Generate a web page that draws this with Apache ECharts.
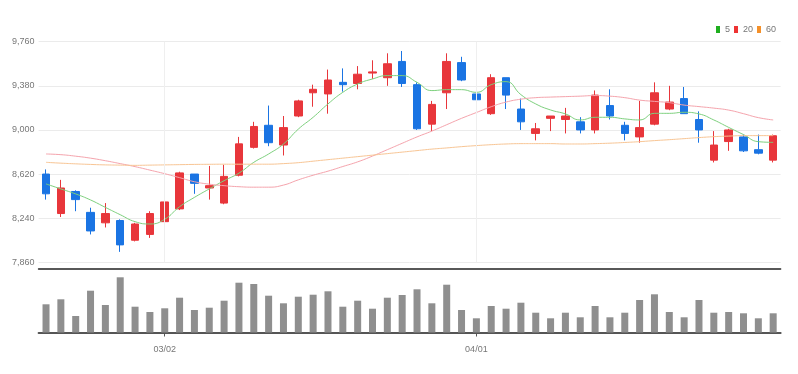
<!DOCTYPE html>
<html><head><meta charset="utf-8">
<script src="https://cdn.jsdelivr.net/npm/echarts@6/dist/echarts.min.js"></script>
<style>html,body{margin:0;padding:0;background:#fff}#c{width:798px;height:374px}</style>
</head><body><div id="c"></div>
<script>
const dates = ['2022-02-17','2022-02-18','2022-02-21','2022-02-22','2022-02-23','2022-02-24','2022-02-25','2022-02-28',
'2022-03-02','2022-03-03','2022-03-04','2022-03-07','2022-03-08','2022-03-10','2022-03-11','2022-03-14','2022-03-15','2022-03-16','2022-03-17','2022-03-18','2022-03-21','2022-03-22','2022-03-23','2022-03-24','2022-03-25','2022-03-28','2022-03-29','2022-03-30','2022-03-31',
'2022-04-01','2022-04-04','2022-04-05','2022-04-06','2022-04-07','2022-04-08','2022-04-11','2022-04-12','2022-04-13','2022-04-14','2022-04-15','2022-04-18','2022-04-19','2022-04-20','2022-04-21','2022-04-22','2022-04-25','2022-04-26','2022-04-27','2022-04-28','2022-04-29'];
const monthTicks = ['2022-03-02','2022-04-01'];
const openP  = [8620,8280,8470,8290,8200,8220,8050,8100,8210,8320,8620,8500,8370,8610,8850,9040,8870,9120,9320,9310,9410,9400,9490,9450,9590,9390,9050,9320,9580,9310,9140,9450,9180,8970,9100,9090,9070,9000,9210,9040,8940,9050,9180,9270,9090,8740,8900,8940,8830,8740];
const closeP = [8450,8500,8400,8130,8280,8010,8190,8280,8380,8630,8540,8520,8600,8880,9030,8890,9020,9250,9350,9430,9390,9480,9500,9570,9400,9010,9220,9590,9430,9260,9450,9300,9070,9010,9120,9120,9000,9300,9120,8970,9020,9320,9240,9140,9000,8870,9000,8820,8800,8950];
const lowP   = [8400,8250,8300,8100,8160,7950,8040,8070,8200,8310,8450,8400,8360,8600,8840,8860,8780,9110,9200,9140,9330,9350,9440,9380,9370,9000,8990,9180,9420,9250,9130,9180,9000,8910,8990,8970,8970,8970,9090,8910,8890,9040,9170,9140,8890,8720,8820,8810,8790,8720];
const highP  = [8660,8570,8480,8330,8370,8230,8200,8300,8420,8640,8620,8690,8700,8940,9070,9210,9120,9260,9390,9520,9530,9550,9600,9660,9680,9410,9250,9660,9630,9410,9480,9450,9270,9060,9120,9190,9110,9340,9350,9070,9250,9410,9380,9370,9160,8990,9010,8960,8960,8960];
const volume = [564,664,330,836,550,1104,516,410,484,696,450,496,636,996,970,736,584,716,756,824,516,636,476,696,750,864,584,956,450,284,530,476,596,396,284,396,304,530,304,396,650,764,410,304,650,396,410,384,284,384];
const ma5  = [8535,8492,8449,8397,8333,8270,8210,8190,8231,8339,8419,8492,8563,8628,8721,8793,8879,9007,9109,9224,9324,9396,9439,9468,9468,9410,9339,9347,9347,9324,9390,9416,9304,9224,9172,9138,9086,9109,9109,9095,9086,9143,9143,9152,9138,9086,9022,8960,8899,8893];
const ma20 = [8793,8787,8774,8757,8735,8710,8684,8654,8623,8589,8554,8533,8520,8511,8507,8507,8525,8570,8610,8645,8685,8725,8775,8830,8885,8940,8990,9045,9100,9150,9200,9240,9265,9278,9283,9287,9291,9296,9291,9278,9257,9246,9235,9214,9201,9188,9171,9140,9106,9086];
const ma60 = [8721,8714,8708,8703,8699,8697,8695,8697,8699,8701,8703,8704,8705,8705,8705,8705,8710,8718,8731,8744,8757,8770,8783,8796,8809,8822,8835,8845,8856,8865,8873,8879,8882,8882,8882,8879,8879,8882,8886,8892,8899,8908,8916,8925,8934,8942,8947,8951,8951,8951];
const yTicks = {min: 7860, max: 9760, step: 380};

const FONT = "'Liberation Sans','Arial',sans-serif";
const UP = '#e8363b', DOWN = '#1a74e3';
const isTick = (i, v) => monthTicks.indexOf(v) >= 0;
const candles = dates.map((d, i) => [openP[i], closeP[i], lowP[i], highP[i]]);

const chart = echarts.init(document.getElementById('c'));
chart.setOption({
  animation: false,
  backgroundColor: '#fff',
  legend: {
    data: ['5', '20', '60'], right: 17, top: 20, icon: 'rect',
    itemWidth: 4, itemHeight: 7, itemGap: 4,
    textStyle: {fontSize: 9, color: '#777', fontFamily: FONT}
  },
  grid: [
    {left: 38.6, right: 17.4, top: 41.7, bottom: 111.7},
    {left: 38.6, right: 17.4, top: 269, bottom: 41.5}
  ],
  xAxis: [
    {type: 'category', data: dates, gridIndex: 0, boundaryGap: true, offset: 6.2,
     axisLine: {show: true, lineStyle: {color: '#222', width: 1.6}},
     axisTick: {show: false}, axisLabel: {show: false}, splitLine: {show: false}},
    {type: 'category', data: dates, gridIndex: 1, boundaryGap: true,
     axisLine: {show: true, lineStyle: {color: '#555', width: 2}},
     axisTick: {show: true, alignWithLabel: true, interval: isTick, length: 4, lineStyle: {color: '#555'}},
     axisLabel: {interval: isTick, fontSize: 9, color: '#777', fontFamily: FONT, margin: 13,
                 formatter: v => v.slice(5, 7) + '/' + v.slice(8, 10)},
     splitLine: {show: false}}
  ],
  yAxis: [
    {type: 'value', gridIndex: 0, min: yTicks.min, max: yTicks.max, interval: yTicks.step,
     axisLine: {show: false}, axisTick: {show: false},
     axisLabel: {fontSize: 9, color: '#777', fontFamily: FONT, margin: 4,
                 formatter: v => Math.round(v).toLocaleString('en-US')},
     splitLine: {show: true, lineStyle: {color: '#ebebeb', width: 1}}},
    {type: 'value', gridIndex: 1, min: 0, max: 1270, show: false, splitLine: {show: false}}
  ],
  series: [
    {type: 'candlestick', name: 'price', xAxisIndex: 0, yAxisIndex: 0, data: candles, barWidth: 8,
     itemStyle: {color: UP, color0: DOWN, borderColor: UP, borderColor0: DOWN, borderWidth: 1},
     markLine: {silent: true, symbol: ['none', 'none'], label: {show: false},
       lineStyle: {color: '#efefef', type: 'solid', width: 1},
       data: monthTicks.map(d => ({xAxis: d}))}},
    {type: 'line', name: '5', data: ma5, xAxisIndex: 0, yAxisIndex: 0, showSymbol: false, smooth: true,
     itemStyle: {color: '#1fae1f'}, lineStyle: {width: 1, color: '#7dd07d'}},
    {type: 'line', name: '20', data: ma20, xAxisIndex: 0, yAxisIndex: 0, showSymbol: false, smooth: true,
     itemStyle: {color: '#ee3333'}, lineStyle: {width: 1, color: '#f5a3ac'}},
    {type: 'line', name: '60', data: ma60, xAxisIndex: 0, yAxisIndex: 0, showSymbol: false, smooth: true,
     itemStyle: {color: '#f4902a'}, lineStyle: {width: 1, color: '#f8c594'}},
    {type: 'bar', name: 'vol', data: volume, xAxisIndex: 1, yAxisIndex: 1, barWidth: 7,
     itemStyle: {color: '#8f8f8f'}}
  ]
});
</script></body></html>
